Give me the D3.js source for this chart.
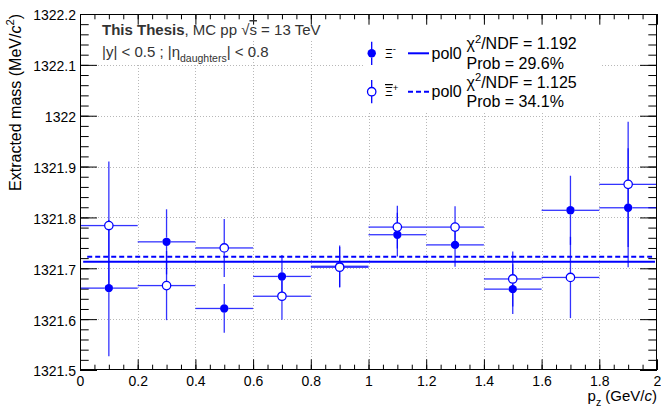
<!DOCTYPE html>
<html><head><meta charset="utf-8">
<script src="https://cdn.jsdelivr.net/npm/d3@7"></script>
<style>body{margin:0;background:#fff} text{font-family:"Liberation Sans",Arial,Helvetica,sans-serif}</style>
</head><body><svg id="c" width="661" height="410"></svg>
<script>
// ---- data ----
const pzCenters = [0.1, 0.3, 0.5, 0.7, 0.9, 1.1, 1.3, 1.5, 1.7, 1.9];
const pzHalfWidth = 0.1;
const xiMinusMass = [1321.661, 1321.752, 1321.621, 1321.684, 1321.704, 1321.766, 1321.746, 1321.659, 1321.814, 1321.819];
const xiMinusErr  = [0.134, 0.064, 0.048, 0.042, 0.041, 0.043, 0.043, 0.049, 0.068, 0.117];
const xiPlusMass  = [1321.784, 1321.666, 1321.740, 1321.645, 1321.702, 1321.781, 1321.781, 1321.679, 1321.682, 1321.865];
const xiPlusErr   = [0.126, 0.068, 0.057, 0.046, 0.040, 0.042, 0.041, 0.054, 0.080, 0.123];
const fitXiMinus = 1321.7128;
const fitXiPlus  = 1321.7226;
const fitRangeMinus = [0.011, 1.993];
const fitRangePlus  = [0.025, 1.983];
const xTicks = [0, 0.2, 0.4, 0.6, 0.8, 1, 1.2, 1.4, 1.6, 1.8, 2];
const xTickLabels = ["0", "0.2", "0.4", "0.6", "0.8", "1", "1.2", "1.4", "1.6", "1.8", "2"];
const yTicks = [1321.5, 1321.6, 1321.7, 1321.8, 1321.9, 1322.0, 1322.1, 1322.2];
const yTickLabels = ["1321.5", "1321.6", "1321.7", "1321.8", "1321.9", "1322", "1322.1", "1322.2"];
const legendMinus = {name: "pol0", chi2: "1.192", prob: "29.6%"};
const legendPlus  = {name: "pol0", chi2: "1.125", prob: "34.1%"};

// ---- layout ----
const L = 80, R = 657, T = 14, B = 370;
const blue = "#0000ff";
const svg = d3.select("#c");
const x = d3.scaleLinear().domain([0, 2]).range([L, R]);
const y = d3.scaleLinear().domain([1321.5, 1322.2]).range([B, T]);

function rich(sel, px, py, parts, size, anchor, fill) {
  const t = sel.append("text").attr("x", px).attr("y", py)
    .attr("font-size", size).attr("text-anchor", anchor || "start").attr("fill", fill || "#000");
  let cur = 0;
  parts.forEach(p => {
    const shift = p.sup ? -0.42 * size : p.sub ? 0.32 * size : 0;
    const ts = t.append("tspan").text(p.t).attr("dy", shift - cur);
    cur = shift;
    if (p.sup || p.sub) ts.attr("font-size", size * (p.scale || 0.7));
    if (p.size) ts.attr("font-size", p.size);
    if (p.italic) ts.attr("font-style", "italic");
    if (p.bold) ts.attr("font-weight", "bold");
    if (p.over) ts.style("text-decoration", "overline");
    if (p.fill) ts.attr("fill", p.fill);
  });
  return t;
}

// ---- grid ----
const grid = svg.append("g").attr("stroke", "#b8b8b8").attr("stroke-width", 1).attr("stroke-dasharray", "1,2");
grid.selectAll("line.gx").data(xTicks.slice(1, -1)).join("line")
  .attr("x1", d => Math.round(x(d)) + 0.5).attr("x2", d => Math.round(x(d)) + 0.5).attr("y1", T).attr("y2", B);
grid.selectAll("line.gy").data(yTicks.slice(1, -1)).join("line")
  .attr("y1", d => Math.round(y(d)) + 0.5).attr("y2", d => Math.round(y(d)) + 0.5).attr("x1", L).attr("x2", R);

// white boxes behind texts / legend (as in the original pads)
svg.append("rect").attr("x", L + 1).attr("y", T + 1).attr("width", 285).attr("height", 26).attr("fill", "#fff");
svg.append("rect").attr("x", L + 1).attr("y", T + 26).attr("width", 172).attr("height", 24).attr("fill", "#fff");
svg.append("rect").attr("x", 365).attr("y", T + 1).attr("width", 237).attr("height", 98).attr("fill", "#fff");

// ---- axes ----
function styleAxis(g) { g.select(".domain").remove(); g.selectAll(".tick line").attr("stroke", "#000"); }
svg.append("g").attr("transform", `translate(0,${B})`)
  .call(d3.axisBottom(x).tickValues(xTicks).tickSize(-10.7).tickPadding(6).tickFormat((d, i) => xTickLabels[i]))
  .call(styleAxis).call(g => g.selectAll("text").attr("font-size", 14).attr("font-family", "Liberation Sans, Arial, sans-serif").attr("fill", "#000"));
svg.append("g").attr("transform", `translate(0,${B})`)
  .call(d3.axisBottom(x).tickValues(d3.range(0, 2.001, 0.05)).tickSize(-5.3).tickFormat("")).call(styleAxis);
svg.append("g").attr("transform", `translate(0,${T})`)
  .call(d3.axisTop(x).tickValues(xTicks).tickSize(-10.7).tickFormat("")).call(styleAxis);
svg.append("g").attr("transform", `translate(0,${T})`)
  .call(d3.axisTop(x).tickValues(d3.range(0, 2.001, 0.05)).tickSize(-5.3).tickFormat("")).call(styleAxis);
svg.append("g").attr("transform", `translate(${L},0)`)
  .call(d3.axisLeft(y).tickValues(yTicks).tickSize(-17).tickPadding(4).tickFormat((d, i) => yTickLabels[i]))
  .call(styleAxis).call(g => g.selectAll("text").attr("font-size", 14).attr("dy", "0.42em").attr("font-family", "Liberation Sans, Arial, sans-serif").attr("fill", "#000"));
svg.append("g").attr("transform", `translate(${L},0)`)
  .call(d3.axisLeft(y).tickValues(d3.range(1321.5, 1322.201, 0.02)).tickSize(-8.7).tickFormat("")).call(styleAxis);
svg.append("g").attr("transform", `translate(${R},0)`)
  .call(d3.axisRight(y).tickValues(yTicks).tickSize(-17).tickFormat("")).call(styleAxis);
svg.append("g").attr("transform", `translate(${R},0)`)
  .call(d3.axisRight(y).tickValues(d3.range(1321.5, 1322.201, 0.02)).tickSize(-8.7).tickFormat("")).call(styleAxis);

// ---- data points ----
const rM = 4.2;
function errorBars(mass, err) {
  const g = svg.append("g").attr("stroke", blue).attr("stroke-width", 1.3).attr("stroke-opacity", 0.8);
  pzCenters.forEach((c, i) => {
    const cx = x(c), cy = y(mass[i]);
    g.append("line").attr("x1", x(c - pzHalfWidth)).attr("x2", cx - rM).attr("y1", cy).attr("y2", cy);
    g.append("line").attr("x1", cx + rM).attr("x2", x(c + pzHalfWidth)).attr("y1", cy).attr("y2", cy);
    g.append("line").attr("x1", cx).attr("x2", cx).attr("y1", y(mass[i] + err[i])).attr("y2", cy - rM);
    g.append("line").attr("x1", cx).attr("x2", cx).attr("y1", cy + rM).attr("y2", y(mass[i] - err[i]));
  });
}
errorBars(xiMinusMass, xiMinusErr);
errorBars(xiPlusMass, xiPlusErr);

// fit lines
svg.append("line").attr("x1", x(fitRangeMinus[0])).attr("x2", x(fitRangeMinus[1]))
  .attr("y1", y(fitXiMinus)).attr("y2", y(fitXiMinus)).attr("stroke", blue).attr("stroke-width", 2);
svg.append("line").attr("x1", x(fitRangePlus[0])).attr("x2", x(fitRangePlus[1]))
  .attr("y1", y(fitXiPlus)).attr("y2", y(fitXiPlus)).attr("stroke", blue).attr("stroke-width", 2).attr("stroke-dasharray", "5,3");

svg.append("g").selectAll("circle").data(pzCenters).join("circle")
  .attr("cx", d => x(d)).attr("cy", (d, i) => y(xiMinusMass[i])).attr("r", rM).attr("fill", blue);
svg.append("g").selectAll("circle").data(pzCenters).join("circle")
  .attr("cx", d => x(d)).attr("cy", (d, i) => y(xiPlusMass[i])).attr("r", rM)
  .attr("fill", "#fff").attr("stroke", blue).attr("stroke-width", 1.3);

// frame
svg.append("rect").attr("x", L + 0.5).attr("y", T + 0.5).attr("width", R - L - 1).attr("height", B - T - 1)
  .attr("fill", "none").attr("stroke", "#000").attr("stroke-width", 1);

// ---- texts ----
rich(svg, 102, 35, [
  {t: "This Thesis", bold: true}, {t: ", MC pp "}, {t: "\u221A"}, {t: "s", over: true}, {t: " = 13 TeV"}
], 15, "start", "#333");
rich(svg, 102, 57, [
  {t: "|y| < 0.5 ; |\u03B7"}, {t: "daughters", sub: true}, {t: "| < 0.8"}
], 15, "start", "#333");

// axis titles
rich(svg, R, 401, [{t: "p"}, {t: "z", sub: true}, {t: " (GeV/"}, {t: "c", italic: true}, {t: ")"}], 15, "end");
rich(svg, 0, 0, [{t: "Extracted mass (MeV/"}, {t: "c", italic: true}, {t: "2", sup: true}, {t: ")"}], 16, "end")
  .attr("transform", `translate(21,${T}) rotate(-90)`);

// ---- legend ----
const lg = svg.append("g");
const lx = 371.7;
[[53.3, legendMinus, true], [91.7, legendPlus, false]].forEach(([ly, info, filled]) => {
  lg.append("line").attr("x1", lx).attr("x2", lx).attr("y1", ly - 11.6).attr("y2", ly - rM)
    .attr("stroke", blue).attr("stroke-width", 1.3);
  lg.append("line").attr("x1", lx).attr("x2", lx).attr("y1", ly + rM).attr("y2", ly + 11.6)
    .attr("stroke", blue).attr("stroke-width", 1.3);
  lg.append("circle").attr("cx", lx).attr("cy", ly).attr("r", rM)
    .attr("fill", filled ? blue : "#fff").attr("stroke", blue).attr("stroke-width", filled ? 0 : 1.3);
  lg.append("line").attr("x1", 408).attr("x2", 429).attr("y1", ly).attr("y2", ly)
    .attr("stroke", blue).attr("stroke-width", 2).attr("stroke-dasharray", filled ? null : "5,3");
  rich(lg, 431.5, ly + 5.5, [{t: info.name}], 16);
  rich(lg, 466.5, ly - 4, [{t: "\u03C7"}, {t: "2", sup: true}, {t: "/NDF = " + info.chi2}], 16);
  rich(lg, 466.5, ly + 15.5, [{t: "Prob = " + info.prob}], 16);
});
rich(lg, 385, 57.5, [{t: "\u039E"}, {t: "-", sup: true, scale: 0.8}], 12);
rich(lg, 385, 96, [{t: "\u039E", over: true}, {t: "+", sup: true, scale: 0.8}], 12);
</script></body></html>
